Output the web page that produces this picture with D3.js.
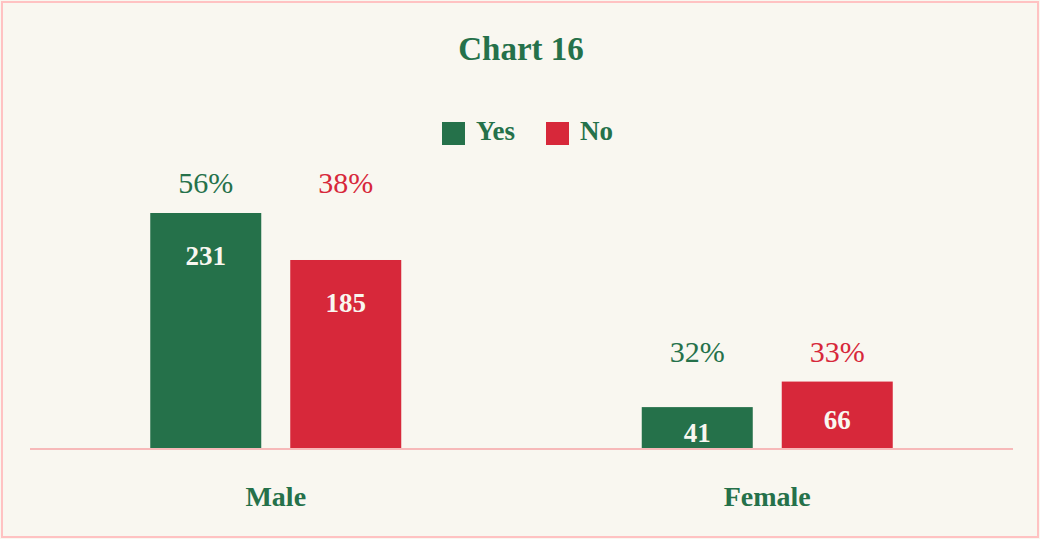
<!DOCTYPE html>
<html>
<head>
<meta charset="utf-8">
<script src="https://cdn.jsdelivr.net/npm/d3@7/dist/d3.min.js"></script>
<style>
  html, body { margin: 0; padding: 0; background: #f9f7f0; }
  svg { display: block; }
  text { font-family: "Liberation Serif", "DejaVu Serif", serif; }
</style>
</head>
<body>
<svg id="chart" width="1040" height="539"></svg>
<script>
const categories = ["Male", "Female"];
const seriesNames = ["Yes", "No"];
const yesCounts = [231, 41];
const noCounts = [185, 66];
const yesPercents = ["56%", "32%"];
const noPercents = ["38%", "33%"];
const title = "Chart 16";

const colors = { Yes: "#25714a", No: "#d7283a" };
const W = 1040, H = 539;
const svg = d3.select("#chart");

svg.append("rect").attr("x", 0).attr("y", 0).attr("width", W).attr("height", H).attr("fill", "#f9f7f0");
svg.append("rect").attr("x", 2).attr("y", 2).attr("width", W - 4).attr("height", H - 4)
  .attr("fill", "none").attr("stroke", "#ffc2c2").attr("stroke-width", 2);

const x0 = d3.scaleBand().domain(categories).range([30, 1013]).paddingInner(0).paddingOuter(0);
const x1 = d3.scaleBand().domain(seriesNames).range([0, x0.bandwidth()]).paddingInner(0.2071).paddingOuter(0.859);
const baseline = 449;
const y = d3.scaleLinear().domain([0, 231]).range([baseline, 213]);

const data = categories.map((c, i) => ({
  cat: c,
  bars: [
    { s: "Yes", v: yesCounts[i], p: yesPercents[i] },
    { s: "No", v: noCounts[i], p: noPercents[i] }
  ]
}));

// title
svg.append("text").attr("x", 521).attr("y", 60).attr("text-anchor", "middle")
  .attr("font-size", 33).attr("font-weight", "bold").attr("fill", colors.Yes).text(title);

// legend
const legend = svg.append("g");
const legendItems = [{ s: "Yes", x: 442 }, { s: "No", x: 546 }];
legendItems.forEach(d => {
  legend.append("rect").attr("x", d.x).attr("y", 122).attr("width", 23).attr("height", 23).attr("fill", colors[d.s]);
  legend.append("text").attr("x", d.x + 34).attr("y", 140).attr("font-size", 27).attr("font-weight", "bold")
    .attr("fill", colors.Yes).text(d.s);
});

const groups = svg.selectAll(".grp").data(data).enter().append("g")
  .attr("transform", d => `translate(${x0(d.cat)},0)`);

groups.selectAll("rect").data(d => d.bars).enter().append("rect")
  .attr("x", d => x1(d.s)).attr("width", x1.bandwidth())
  .attr("y", d => y(d.v)).attr("height", d => baseline - y(d.v))
  .attr("fill", d => colors[d.s]);

// value labels inside bars
groups.selectAll(".val").data(d => d.bars).enter().append("text")
  .attr("x", d => x1(d.s) + x1.bandwidth() / 2)
  .attr("y", d => Math.min(y(d.v) + 52, (y(d.v) + baseline) / 2 + 14))
  .attr("text-anchor", "middle").attr("font-size", 27).attr("font-weight", "bold")
  .attr("fill", "#f9f7f0").text(d => d.v);

// percent labels above group
groups.each(function (g) {
  const top = y(d3.max(g.bars, b => b.v));
  d3.select(this).selectAll(".pct").data(g.bars).enter().append("text")
    .attr("x", d => x1(d.s) + x1.bandwidth() / 2)
    .attr("y", top - 20)
    .attr("text-anchor", "middle").attr("font-size", 30)
    .attr("fill", d => colors[d.s]).text(d => d.p);
});

// baseline
svg.append("line").attr("x1", 30).attr("x2", 1013).attr("y1", baseline).attr("y2", baseline)
  .attr("stroke", "#f7b9b9").attr("stroke-width", 2);

// category labels
const xAxis = d3.axisBottom(x0).tickSize(0).tickPadding(0);
const ax = svg.append("g").attr("transform", `translate(0,${baseline})`).call(xAxis);
ax.select(".domain").remove();
ax.selectAll("text").attr("dy", null).attr("y", 57).attr("font-size", 28).attr("font-weight", "bold")
  .attr("fill", colors.Yes).attr("font-family", "Liberation Serif, DejaVu Serif, serif");
</script>
</body>
</html>
